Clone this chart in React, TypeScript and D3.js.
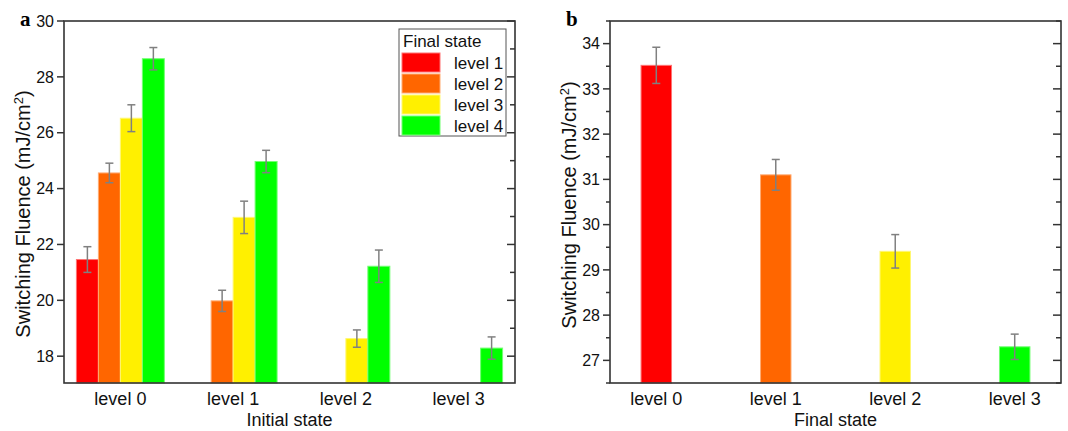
import React from "react";
import * as d3 from "d3";

// panel a: initial state on x, bars grouped by final state
const initialStates = ["level 0", "level 1", "level 2", "level 3"];
const finalStatesA = ["level 1", "level 2", "level 3", "level 4"];
const toLevel1 = [21.46, null, null, null];
const toLevel2 = [24.56, 19.98, null, null];
const toLevel3 = [26.52, 22.97, 18.63, null];
const toLevel4 = [28.65, 24.97, 21.22, 18.29];
const toLevel1Err = [0.46, null, null, null];
const toLevel2Err = [0.35, 0.38, null, null];
const toLevel3Err = [0.48, 0.58, 0.31, null];
const toLevel4Err = [0.4, 0.4, 0.58, 0.4];
const yTicksA = [18, 20, 22, 24, 26, 28, 30];
const yMinorA = [19, 21, 23, 25, 27, 29];

// panel b: averaged over final state
const finalStatesB = ["level 0", "level 1", "level 2", "level 3"];
const fluenceB = [33.52, 31.1, 29.41, 27.3];
const fluenceBErr = [0.4, 0.34, 0.37, 0.28];
const yTicksB = [27, 28, 29, 30, 31, 32, 33, 34];
const yMinorB = [26.5, 27.5, 28.5, 29.5, 30.5, 31.5, 32.5, 33.5, 34.5];

const levelColors = ["#ff0000", "#ff6600", "#fff000", "#00ff00"];

const FONT = "'Liberation Sans', Arial, sans-serif";
const AXIS = "#333";
const ERR = "#808080";

const top = 21, bottom = 383;

function edge(c: string) {
  return d3.interpolateRgb(c, "#fff")(0.45);
}

function Frame({ x0, x1, y, ticks, minor, leftMinor, fmt }: any) {
  return (
    <g>
      {ticks.map((t: number) => (
        <g key={"t" + t}>
          <line x1={x0 - 7} x2={x0} y1={y(t)} y2={y(t)} stroke={AXIS} strokeWidth={1.5} />
          <line x1={x1 - 8} x2={x1} y1={y(t)} y2={y(t)} stroke={AXIS} strokeWidth={1.5} />
          <text x={x0 - 10} y={y(t)} dy="0.36em" textAnchor="end" fontSize={16} fontFamily={FONT} fill="#111">
            {fmt(t)}
          </text>
        </g>
      ))}
      {minor.map((t: number) => (
        <g key={"m" + t}>
          {leftMinor && <line x1={x0 - 4} x2={x0} y1={y(t)} y2={y(t)} stroke={AXIS} strokeWidth={1.5} />}
          <line x1={x1 - 5} x2={x1} y1={y(t)} y2={y(t)} stroke={AXIS} strokeWidth={1.5} />
        </g>
      ))}
      <rect x={x0} y={top} width={x1 - x0} height={bottom - top} fill="none" stroke={AXIS} strokeWidth={1.6} />
    </g>
  );
}

function ErrorBar({ cx, y, v, e }: any) {
  return (
    <g stroke={ERR} strokeWidth={1.5}>
      <line x1={cx} x2={cx} y1={y(v + e)} y2={y(v - e)} />
      <line x1={cx - 4} x2={cx + 4} y1={y(v + e)} y2={y(v + e)} />
      <line x1={cx - 4} x2={cx + 4} y1={y(v - e)} y2={y(v - e)} />
    </g>
  );
}

function YTitle({ x, y }: any) {
  return (
    <text transform={`translate(${x},${y}) rotate(-90)`} textAnchor="middle" fontSize={20} fontFamily={FONT} fill="#111">
      Switching Fluence (mJ/cm
      <tspan dy={-7} fontSize={13}>2</tspan>
      <tspan dy={7}>)</tspan>
    </text>
  );
}

export default function App() {
  // ---- panel a
  const ax0 = 64, ax1 = 515;
  const xA = d3.scaleBand().domain(initialStates).range([ax0, ax1]).paddingInner(0.22).paddingOuter(0.11);
  const xA1 = d3.scaleBand().domain(finalStatesA).range([0, xA.bandwidth()]);
  const yA = d3.scaleLinear().domain([17.04, 30]).range([bottom, top]);
  const seriesA = [toLevel1, toLevel2, toLevel3, toLevel4];
  const errA = [toLevel1Err, toLevel2Err, toLevel3Err, toLevel4Err];

  // ---- panel b
  const bx0 = 610, bx1 = 1061;
  const xB = d3.scaleBand().domain(finalStatesB).range([bx0, bx1]).paddingInner(0.745).paddingOuter(0.26);
  const yB = d3.scaleLinear().domain([26.5, 34.5]).range([bottom, top]);

  return (
    <svg width={1068} height={431} style={{ position: "absolute", left: 0, top: 0, background: "#fff" }}>
      {/* panel a */}
      {seriesA.map((vals, si) =>
        vals.map((v, i) =>
          v == null ? null : (
            <rect
              key={`a${si}-${i}`}
              x={(xA(initialStates[i]) as number) + (xA1(finalStatesA[si]) as number)}
              y={yA(v)}
              width={xA1.bandwidth()}
              height={bottom - yA(v)}
              fill={levelColors[si]}
              stroke={edge(levelColors[si])}
              strokeWidth={1}
            />
          )
        )
      )}
      {seriesA.map((vals, si) =>
        vals.map((v, i) =>
          v == null ? null : (
            <ErrorBar
              key={`ae${si}-${i}`}
              cx={(xA(initialStates[i]) as number) + (xA1(finalStatesA[si]) as number) + xA1.bandwidth() / 2}
              y={yA}
              v={v}
              e={errA[si][i]}
            />
          )
        )
      )}
      <Frame x0={ax0} x1={ax1} y={yA} ticks={yTicksA} minor={yMinorA} leftMinor={false} fmt={(t: number) => String(t)} />
      {initialStates.map((c) => (
        <text key={c} x={(xA(c) as number) + xA.bandwidth() / 2} y={405} textAnchor="middle" fontSize={18} fontFamily={FONT} fill="#111">
          {c}
        </text>
      ))}
      <text x={(ax0 + ax1) / 2} y={426} textAnchor="middle" fontSize={18} fontFamily={FONT} fill="#111">
        Initial state
      </text>
      <YTitle x={30} y={214} />
      <text x={20} y={26} fontSize={21} fontWeight="bold" fontFamily="'Liberation Serif', 'Times New Roman', serif">
        a
      </text>

      {/* legend */}
      <g fontFamily={FONT} fontSize={17} fill="#111">
        <rect x={399} y={29} width={107} height={107} fill="#fff" stroke="#555" strokeWidth={1} />
        <text x={403} y={47}>Final state</text>
        {finalStatesA.map((f, i) => (
          <g key={f}>
            <rect x={402} y={53 + i * 21} width={38} height={19} fill={levelColors[i]} stroke={edge(levelColors[i])} />
            <text x={454} y={62.5 + i * 21} dy="0.36em">{f}</text>
          </g>
        ))}
      </g>

      {/* panel b */}
      {fluenceB.map((v, i) => (
        <rect
          key={`b${i}`}
          x={xB(finalStatesB[i])}
          y={yB(v)}
          width={xB.bandwidth()}
          height={bottom - yB(v)}
          fill={levelColors[i]}
          stroke={edge(levelColors[i])}
          strokeWidth={1}
        />
      ))}
      {fluenceB.map((v, i) => (
        <ErrorBar key={`be${i}`} cx={(xB(finalStatesB[i]) as number) + xB.bandwidth() / 2} y={yB} v={v} e={fluenceBErr[i]} />
      ))}
      <Frame x0={bx0} x1={bx1} y={yB} ticks={yTicksB} minor={yMinorB} leftMinor={true} fmt={(t: number) => String(t)} />
      {finalStatesB.map((c) => (
        <text key={c} x={(xB(c) as number) + xB.bandwidth() / 2} y={405} textAnchor="middle" fontSize={18} fontFamily={FONT} fill="#111">
          {c}
        </text>
      ))}
      <text x={(bx0 + bx1) / 2} y={426} textAnchor="middle" fontSize={18} fontFamily={FONT} fill="#111">
        Final state
      </text>
      <YTitle x={576} y={205} />
      <text x={566} y={26} fontSize={21} fontWeight="bold" fontFamily="'Liberation Serif', 'Times New Roman', serif">
        b
      </text>
    </svg>
  );
}
